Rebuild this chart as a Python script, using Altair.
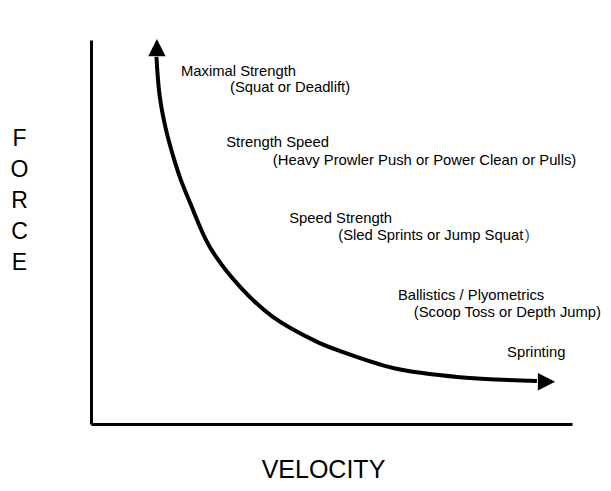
import altair as alt
import pandas as pd

# Force-velocity curve (velocity 0-100, force 0-100)
curve_velocity = [13.6, 14.3, 15.6, 17.5, 18.7, 20.6, 24.7, 31.0, 37.8, 47.0, 51.8, 62.8, 76.7, 92.7]
curve_force = [95.6, 85.2, 76.6, 68.0, 63.5, 57.6, 46.1, 35.7, 27.9, 21.4, 19.0, 14.6, 12.2, 11.2]

# arrow heads at both ends of the curve
arrow_velocity = [13.7, 94.7]
arrow_force = [98.0, 11.0]
arrow_shape = ["M0,-1L1,1L-1,1Z", "M1,0L-1,-1L-1,1Z"]

# annotation labels
label_text = [
    "Maximal Strength",
    "(Squat or Deadlift)",
    "Strength Speed",
    "(Heavy Prowler Push or Power Clean or Pulls)",
    "Speed Strength",
    "(Sled Sprints or Jump Squat",
    "Ballistics / Plyometrics",
    "(Scoop Toss or Depth Jump)",
    "Sprinting",
]
label_velocity = [18.7, 28.9, 28.1, 37.8, 41.2, 51.4, 63.8, 67.1, 86.5]
label_force = [90.6, 86.5, 72.1, 67.4, 52.3, 47.9, 32.3, 27.9, 17.4]

paren_text = [")"]
paren_velocity = [90.2]
paren_force = [47.9]

y_title = ["F", "O", "R", "C", "E"]
x_title = "VELOCITY"

curve_df = pd.DataFrame({"v": curve_velocity, "f": curve_force, "o": list(range(len(curve_force)))})
arrow_df = pd.DataFrame({"v": arrow_velocity, "f": arrow_force, "s": arrow_shape})
label_df = pd.DataFrame({"v": label_velocity, "f": label_force, "t": label_text})
paren_df = pd.DataFrame({"v": paren_velocity, "f": paren_force, "t": paren_text})

FONT = "Liberation Sans"

xscale = alt.Scale(domain=[0, 100], nice=False, zero=False)
yscale = alt.Scale(domain=[0, 100], nice=False, zero=False)

x_axis = alt.Axis(
    title=x_title, ticks=False, labels=False, grid=False,
    domainColor="black", domainWidth=3,
    titleFont=FONT, titleFontSize=25, titleFontWeight="normal", titleColor="black",
    titleX=232, titleY=53, titleAlign="center", titleBaseline="alphabetic",
)
y_axis = alt.Axis(
    title=y_title, ticks=False, labels=False, grid=False,
    domainColor="black", domainWidth=3,
    titleFont=FONT, titleFontSize=23, titleFontWeight="normal", titleColor="black",
    titleAngle=0, titleX=-72, titleY=105, titleAlign="center",
    titleBaseline="alphabetic", titleLineHeight=31,
)

base_x = alt.X("v:Q", scale=xscale, axis=x_axis)
base_y = alt.Y("f:Q", scale=yscale, axis=y_axis)

curve = alt.Chart(curve_df).mark_line(
    color="black", strokeWidth=4, interpolate="catmull-rom", strokeCap="butt"
).encode(x=base_x, y=base_y, order="o:Q")

arrows = alt.Chart(arrow_df).mark_point(
    filled=True, color="black", size=300, opacity=1, strokeWidth=0
).encode(
    x=alt.X("v:Q", scale=xscale),
    y=alt.Y("f:Q", scale=yscale),
    shape=alt.Shape("s:N", scale=None),
)

labels = alt.Chart(label_df).mark_text(
    align="left", baseline="alphabetic", font=FONT, fontSize=14.8, color="black"
).encode(
    x=alt.X("v:Q", scale=xscale),
    y=alt.Y("f:Q", scale=yscale),
    text="t:N",
)

paren = alt.Chart(paren_df).mark_text(
    align="left", baseline="alphabetic", font=FONT, fontSize=14.8, color="#1f4fa8"
).encode(
    x=alt.X("v:Q", scale=xscale),
    y=alt.Y("f:Q", scale=yscale),
    text="t:N",
)

chart = alt.layer(curve, arrows, labels, paren).properties(
    width=481,
    height=384,
    autosize=alt.AutoSizeParams(type="none"),
    padding={"left": 83, "top": 32, "right": 31, "bottom": 58},
    background="white",
).configure_view(stroke=None)

chart.save("out.html", embed_options={"renderer": "svg", "actions": False})
